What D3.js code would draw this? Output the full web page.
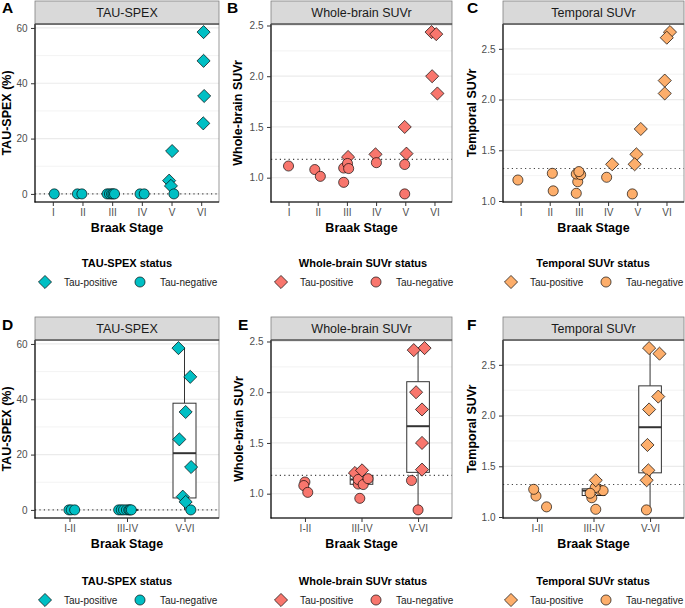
<!DOCTYPE html>
<html><head><meta charset="utf-8">
<script src="https://cdn.jsdelivr.net/npm/d3@7"></script>
<style>
body{margin:0;background:#fff}
text{font-family:"Liberation Sans",Arial,Helvetica,sans-serif}
</style>
</head><body>
<svg id="chart" width="685" height="608"></svg>
<script>
// ---------------- DATA ----------------
const stagesTop = ["I", "II", "III", "IV", "V", "VI"];
const stagesBottom = ["I-II", "III-IV", "V-VI"];
const stageToGroup = ["I-II", "I-II", "III-IV", "III-IV", "V-VI", "V-VI"]; // same order as stagesTop

const measureNames = ["TAU-SPEX", "Whole-brain SUVr", "Temporal SUVr"];
const yTitles = ["TAU-SPEX (%)", "Whole-brain SUVr", "Temporal SUVr"];
const legendTitles = ["TAU-SPEX status", "Whole-brain SUVr status", "Temporal SUVr status"];
const statusLabels = ["Tau-positive", "Tau-negative"];
const thresholds = [0, 1.18, 1.32];
const yTickValues = [[0, 20, 40, 60], [1.0, 1.5, 2.0, 2.5], [1.0, 1.5, 2.0, 2.5]];
const yTickFormats = ["d", ".1f", ".1f"];
const panelLetters = [["A", "B", "C"], ["D", "E", "F"]];
const measureColors = ["#00BFC4", "#F8766D", "#FDAE6B"];
const minBoxN = 4; // groups with fewer subjects are shown without a box

// subjects, ordered by Braak stage
const subjectStage = ["I","II","II","III","III","III","III","III","IV","IV","V","V","V","V","VI","VI","VI","VI"];

// TAU-SPEX (%)
const spexValue    = [0, 0, 0, 0, 0, 0, 0, 0, 0, 0, 15.5, 4.8, 2.9, 0, 58.5, 48.1, 35.4, 25.5];
const spexPositive = [0, 0, 0, 0, 0, 0, 0, 0, 0, 0, 1, 1, 1, 0, 1, 1, 1, 1];
const spexJitterTop    = [0.05, -0.17, -0.02, -0.17, -0.09, -0.02, 0.03, 0.08, -0.06, 0.08, 0.02, -0.08, -0.02, 0.08, 0.08, 0.08, 0.10, 0.07];
const spexJitterBottom = [-0.01, 0.03, 0.09, -0.145, -0.10, -0.06, -0.01, 0.03, 0.05, 0.075, 0.115, -0.03, 0.02, 0.11, -0.105, 0.10, 0.02, -0.09];

// Whole-brain SUVr
const wbValue    = [1.115, 1.08, 1.013, 1.204, 1.095, 1.14, 1.09, 0.954, 1.23, 1.148, 1.50, 1.237, 1.13, 0.84, 2.435, 2.415, 2.00, 1.83];
const wbPositive = [0, 0, 0, 1, 0, 0, 0, 0, 1, 0, 1, 1, 0, 0, 1, 1, 1, 1];
const wbJitterTop    = [0, -0.10, 0.09, 0.04, -0.11, 0.02, 0.06, -0.11, -0.02, 0.01, -0.02, 0.04, -0.02, -0.02, -0.10, 0.06, -0.08, 0.10];
const wbJitterBottom = [0, -0.02, 0.05, -0.116, -0.058, -0.058, 0.03, -0.03, 0.01, 0.116, 0.07, 0.07, -0.116, 0, 0.115, -0.076, -0.035, 0.07];

// Temporal SUVr
const tmpValue    = [1.207, 1.273, 1.10, 1.076, 1.19, 1.266, 1.26, 1.29, 1.362, 1.234, 1.71, 1.46, 1.362, 1.07, 2.665, 2.61, 2.187, 2.06];
const tmpPositive = [0, 0, 0, 0, 0, 0, 0, 0, 1, 0, 1, 1, 1, 0, 1, 1, 1, 1];
const tmpJitterTop    = [-0.09, 0.09, 0.12, -0.09, -0.04, -0.09, 0.06, 0, 0.14, -0.05, 0.12, -0.03, -0.09, -0.17, 0.12, 0.01, -0.06, -0.06];
const tmpJitterBottom = [-0.017, -0.057, 0.17, 0.04, -0.03, 0.116, 0.17, 0.03, 0.04, -0.06, -0.046, -0.03, -0.06, -0.064, -0.017, 0.167, 0.145, -0.017];

const measureValues = [spexValue, wbValue, tmpValue];
const measurePositive = [spexPositive, wbPositive, tmpPositive];
const measureJitter = [[spexJitterTop, spexJitterBottom], [wbJitterTop, wbJitterBottom], [tmpJitterTop, tmpJitterBottom]];

// ---------------- LAYOUT ----------------
const W = 685, H = 608;
const colX = [[35, 219], [271, 452], [503, 684]];
const rowY = [[24, 202], [340, 518]];
const stripH = 23;
const yTitleOffset = [[28, 33.3, 31.5], [28.3, 32.7, 31.5]];
const letterPos = [[[2, 13], [227, 13], [467, 13]], [[2, 330], [238, 330], [467, 330]]];
const legendCenter = [127, 363, 593];
const legendTitleY = [263, 581];
const legendItemY = [282, 600];

const svg = d3.select("#chart");
svg.append("rect").attr("width", W).attr("height", H).attr("fill", "#fff");

const diamondPath = d3.symbol(d3.symbolSquare, 86)();
const circlePath = d3.symbol(d3.symbolCircle, 80)();

function drawMarker(g, positive, color) {
  const p = g.append("path")
    .attr("d", positive ? diamondPath : circlePath)
    .attr("fill", color).attr("stroke", "#000").attr("stroke-width", 0.65);
  if (positive) p.attr("transform", "rotate(45)");
  return p;
}

function drawPanel(col, row) {
  const [xl, xr] = colX[col];
  const [yt, yb] = rowY[row];
  const vals = measureValues[col];
  const pos = measurePositive[col];
  const jit = measureJitter[col][row];
  const color = measureColors[col];
  const cats = row === 0 ? stagesTop : stagesBottom;
  const catOf = i => row === 0 ? subjectStage[i] : stageToGroup[stagesTop.indexOf(subjectStage[i])];

  const [mn, mx] = d3.extent(vals);
  const pad = (mx - mn) * 0.05;
  const y = d3.scaleLinear().domain([mn - pad, mx + pad]).range([yb, yt]);
  const x = d3.scalePoint().domain(cats).range([xl, xr]).padding(0.6);
  const step = x.step();

  const g = svg.append("g");
  g.append("rect").attr("x", xl).attr("y", yt).attr("width", xr - xl).attr("height", yb - yt).attr("fill", "#fff");

  // gridlines
  const ticks = yTickValues[col];
  const tstep = ticks[1] - ticks[0];
  const dom = y.domain();
  const minor = [];
  for (let t = ticks[0] - tstep / 2; t <= dom[1]; t += tstep) if (t >= dom[0]) minor.push(t);
  g.selectAll(".minor").data(minor).join("line")
    .attr("x1", xl).attr("x2", xr).attr("y1", d => y(d)).attr("y2", d => y(d))
    .attr("stroke", "#EBEBEB").attr("stroke-width", 0.6);
  g.selectAll(".major").data(ticks).join("line")
    .attr("x1", xl).attr("x2", xr).attr("y1", d => y(d)).attr("y2", d => y(d))
    .attr("stroke", "#EBEBEB").attr("stroke-width", 1.2);

  // boxplots (bottom row)
  if (row === 1) {
    cats.forEach(c => {
      const v = vals.filter((d, i) => catOf(i) === c).sort(d3.ascending);
      if (v.length < minBoxN) return;
      const q1 = d3.quantile(v, 0.25), med = d3.quantile(v, 0.5), q3 = d3.quantile(v, 0.75);
      const iqr = q3 - q1;
      const lo = d3.min(v.filter(d => d >= q1 - 1.5 * iqr));
      const hi = d3.max(v.filter(d => d <= q3 + 1.5 * iqr));
      const cx = x(c), bw = 0.4 * step;
      g.append("line").attr("x1", cx).attr("x2", cx).attr("y1", y(hi)).attr("y2", y(q3))
        .attr("stroke", "#333").attr("stroke-width", 1);
      g.append("line").attr("x1", cx).attr("x2", cx).attr("y1", y(q1)).attr("y2", y(lo))
        .attr("stroke", "#333").attr("stroke-width", 1);
      g.append("rect").attr("x", cx - bw / 2).attr("width", bw)
        .attr("y", y(q3)).attr("height", Math.max(0, y(q1) - y(q3)))
        .attr("fill", "#fff").attr("stroke", "#333").attr("stroke-width", 1);
      g.append("line").attr("x1", cx - bw / 2).attr("x2", cx + bw / 2).attr("y1", y(med)).attr("y2", y(med))
        .attr("stroke", "#333").attr("stroke-width", 2);
    });
  }

  // threshold
  g.append("line").attr("x1", xl).attr("x2", xr).attr("y1", y(thresholds[col])).attr("y2", y(thresholds[col]))
    .attr("stroke", "#444").attr("stroke-width", 1.1).attr("stroke-dasharray", "1.2,3.2");

  // points
  vals.forEach((v, i) => {
    const px = x(catOf(i)) + jit[i] * step;
    const pg = g.append("g").attr("transform", `translate(${px},${y(v)})`);
    drawMarker(pg, pos[i] === 1, color);
  });

  // panel border
  g.append("rect").attr("x", xl).attr("y", yt).attr("width", xr - xl).attr("height", yb - yt)
    .attr("fill", "none").attr("stroke", "#808080").attr("stroke-width", 0.8);
  g.append("line").attr("x1", xl).attr("x2", xl).attr("y1", yt).attr("y2", yb + 0.5).attr("stroke", "#000").attr("stroke-width", 1.1);
  g.append("line").attr("x1", xl - 0.5).attr("x2", xr).attr("y1", yb).attr("y2", yb).attr("stroke", "#000").attr("stroke-width", 1.1);

  // strip
  g.append("rect").attr("x", xl).attr("y", yt - stripH).attr("width", xr - xl).attr("height", stripH)
    .attr("fill", "#D9D9D9").attr("stroke", "#808080").attr("stroke-width", 0.8);
  g.append("line").attr("x1", xl).attr("x2", xr).attr("y1", yt).attr("y2", yt).attr("stroke", "#333").attr("stroke-width", 1);
  g.append("text").attr("x", (xl + xr) / 2).attr("y", yt - stripH / 2).attr("dy", "0.35em")
    .attr("text-anchor", "middle").attr("font-size", 12.5).attr("fill", "#1A1A1A").text(measureNames[col]);

  // axes
  const ya = g.append("g").attr("transform", `translate(${xl},0)`)
    .call(d3.axisLeft(y).tickValues(ticks).tickSize(4).tickPadding(3.5).tickFormat(d3.format(yTickFormats[col])));
  const xa = g.append("g").attr("transform", `translate(0,${yb})`)
    .call(d3.axisBottom(x).tickSize(4).tickPadding(3));
  [ya, xa].forEach(a => {
    a.select(".domain").remove();
    a.selectAll(".tick line").attr("stroke", "#333").attr("stroke-width", 1);
    a.selectAll(".tick text").attr("fill", "#4D4D4D").attr("font-size", 10)
      .attr("font-family", '"Liberation Sans",Arial,sans-serif');
  });

  // axis titles
  g.append("text").attr("x", (xl + xr) / 2).attr("y", yb + 25.5).attr("dy", "0.35em")
    .attr("text-anchor", "middle").attr("font-size", 12.5).attr("font-weight", "bold").attr("fill", "#000")
    .text("Braak Stage");
  g.append("text").attr("transform", `translate(${xl - yTitleOffset[row][col]},${(yt + yb) / 2}) rotate(-90)`)
    .attr("dy", "0.35em").attr("text-anchor", "middle").attr("font-size", 12.5).attr("font-weight", "bold")
    .attr("fill", "#000").text(yTitles[col]);

  // panel letter
  const [lx, ly] = letterPos[row][col];
  g.append("text").attr("x", lx).attr("y", ly).attr("font-size", 15.5).attr("font-weight", "bold")
    .attr("fill", "#000").text(panelLetters[row][col]);

  // legend
  const c = legendCenter[col];
  const lg = svg.append("g");
  lg.append("text").attr("x", c).attr("y", legendTitleY[row]).attr("dy", "0.35em").attr("text-anchor", "middle")
    .attr("font-size", 11).attr("font-weight", "bold").attr("fill", "#000").text(legendTitles[col]);
  const keyX = [c - 82, c + 13];
  const txtX = [c - 63, c + 33];
  statusLabels.forEach((lab, k) => {
    const kg = lg.append("g").attr("transform", `translate(${keyX[k]},${legendItemY[row]})`);
    drawMarker(kg, k === 0, color);
    lg.append("text").attr("x", txtX[k]).attr("y", legendItemY[row]).attr("dy", "0.35em")
      .attr("font-size", 10).attr("fill", "#1A1A1A").text(lab);
  });
}

for (let row = 0; row < 2; row++) for (let col = 0; col < 3; col++) drawPanel(col, row);
</script>
</body></html>
